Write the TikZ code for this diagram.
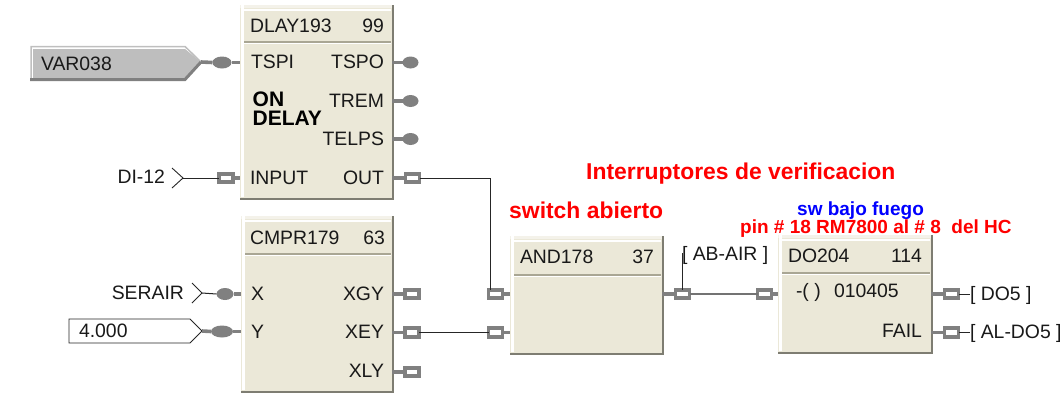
\documentclass[tikz,border=0pt]{standalone}
\usepackage{fontspec}
\setmainfont{Liberation Sans}
\usetikzlibrary{shapes.geometric}
\definecolor{blockfill}{HTML}{EBE8D8}
\definecolor{blockedge}{HTML}{7E7D72}
\definecolor{sepline}{HTML}{A9A694}
\definecolor{pingray}{HTML}{808080}
\definecolor{tagfill}{HTML}{BEBEBE}
\tikzset{
  x=1pt,y=-1pt,
  lbl/.style={inner sep=0pt,outer sep=0pt,font=\fontsize{19.4}{20}\selectfont,text=black!90},
  lw/.style={lbl,anchor=base west},
  le/.style={lbl,anchor=base east},
  bold/.style={inner sep=0pt,anchor=base west,font=\fontsize{#1}{#1}\selectfont\bfseries},
  squarepin/.style={draw=pingray,line width=3.6pt,fill=white,minimum width=14pt,minimum height=8.5pt,inner sep=0pt,outer sep=0pt,shape=rectangle},
  ovalpin/.style={shape=ellipse,fill=pingray,minimum width=#1,minimum height=12pt,inner sep=0pt,outer sep=0pt},
  stub/.style={draw=pingray,line width=3.6pt},
  wire/.style={draw=black!85,line width=1pt},
  graywire/.style={draw=black!55,line width=1.5pt},
  blockbody/.style={shape=rectangle,fill=blockfill,inner sep=0pt,outer sep=0pt,anchor=north west},
  chev/.style={draw=black!85,line width=0.9pt},
}
% name, x1, y1, x2, y2, separator y
\newcommand{\fblock}[6]{%
  \pgfmathsetlengthmacro{\bw}{#4-#2}\pgfmathsetlengthmacro{\bh}{#5-#3}%
  \node[blockbody,minimum width=\bw,minimum height=\bh] (#1) at (#2,#3) {};
  \fill[blockfill!55!white] (#2,#3) rectangle (#4,#3+3);
  \fill[white] (#2+1,#3+4) rectangle (#4-1,#3+5.5);
  \fill[white] (#2+1,#3) rectangle (#2+3.5,#5-1);
  \fill[sepline] (#2+3.5,#6) rectangle (#4-1,#6+1.7);
  \fill[white] (#2+3.5,#6+1.7) rectangle (#4-1,#6+3.2);
  \fill[blockedge] (#4-0.5,#3) rectangle (#4+1.5,#5+1);
  \fill[blockedge] (#2,#5-0.5) rectangle (#4+1.5,#5+1.5);
}
\begin{document}
\begin{tikzpicture}
\useasboundingbox (0,0) rectangle (1063,392);
% blocks
\fblock{dlay}{240}{5}{392}{198}{41}
\fblock{cmpr}{241}{216}{392}{391}{253}
\fblock{andb}{510}{236}{662}{353}{274}
\fblock{dob}{778}{235}{931}{352}{272}
% VAR038 tag
\node[shape=rectangle,inner sep=0pt] (vartip) at (201,62) {};
\fill[tagfill] (33,49) -- (185,49) -- (vartip.center) -- (185,79) -- (33,79) -- cycle;
\draw[draw=black!25,line width=1.5pt] (31,80) -- (31,46.5) -- (185,46.5) -- (vartip.center);
\draw[draw=pingray,line width=3pt] (30,79.5) -- (185,79.5) -- (vartip.center);
\node[lw] (var) at (41,70) {VAR038};
% constant tag
\node[shape=rectangle,inner sep=0pt] (consttip) at (202,331) {};
\draw[chev,fill=white] (69,319) -- (190,319) -- (consttip.center) -- (190,343) -- (69,343) -- cycle;
\node[lw] (const) at (79,337) {4.000};
% chevrons
\node[shape=rectangle,inner sep=0pt] (ditip) at (183,178) {};
\draw[chev] (172,168) -- (ditip.center) -- (172,188);
\node[shape=rectangle,inner sep=0pt] (sertip) at (202,293) {};
\draw[chev] (192,283) -- (sertip.center) -- (192,303);
\node[le] (di) at (165,183) {DI-12};
\node[le] (ser) at (184,299) {SERAIR};
% oval pins
\node[ovalpin=19pt] (ptspi) at (222,62.5) {};
\node[ovalpin=22pt] (py) at (222,331.5) {};
\node[ovalpin=17pt] (px) at (225,294) {};
\node[ovalpin=16pt] (ptspo) at (410.5,62.5) {};
\node[ovalpin=16pt] (ptrem) at (410.5,101) {};
\node[ovalpin=16pt] (ptelps) at (410.5,139) {};
% wires to the blocks
\draw[stub] (vartip.center) -- (ptspi.west);
\draw[stub] (ptspi.east) -- (ptspi -| dlay.west);
\draw[stub] (consttip.center) -- (py.west);
\draw[stub] (py.east) -- (py -| cmpr.west);
\draw[wire] (sertip.center) -- (px.west);
\draw[stub] (px.east) -- (px -| cmpr.west);
\draw[stub] (ptspo -| dlay.east) -- (ptspo.west);
\draw[stub] (ptrem -| dlay.east) -- (ptrem.west);
\draw[stub] (ptelps -| dlay.east) -- (ptelps.west);
% square pins
\node[squarepin] (pinput) at (226,178) {};
\node[squarepin] (pout) at (412.5,178) {};
\node[squarepin] (pxgy) at (412,294) {};
\node[squarepin] (pxey) at (412,332.5) {};
\node[squarepin] (pxly) at (412,372) {};
\node[squarepin] (pa1) at (495.5,294) {};
\node[squarepin] (pa2) at (495.5,332.5) {};
\node[squarepin] (paout) at (682.5,294) {};
\node[squarepin] (pdin) at (764.5,294) {};
\node[squarepin] (pdo5) at (951.5,294) {};
\node[squarepin] (pfail) at (951.5,332.5) {};
% stubs
\draw[stub] (pinput.east) -- (pinput -| dlay.west);
\draw[stub] (pout -| dlay.east) -- (pout.west);
\draw[stub] (pxgy -| cmpr.east) -- (pxgy.west);
\draw[stub] (pxey -| cmpr.east) -- (pxey.west);
\draw[stub] (pxly -| cmpr.east) -- (pxly.west);
\draw[stub] (pa1.east) -- (pa1 -| andb.west);
\draw[stub] (pa2.east) -- (pa2 -| andb.west);
\draw[stub] (paout -| andb.east) -- (paout.west);
\draw[stub] (pdin.east) -- (pdin -| dob.west);
\draw[stub] (pdo5 -| dob.east) -- (pdo5.west);
\draw[stub] (pfail -| dob.east) -- (pfail.west);
% connectors
\draw[wire] (ditip.center) -- (pinput.west);
\draw[wire] (pout.east) -| ([xshift=-5.5pt]pa1.north);
\draw[wire] (pxey.east) -- (pa2.west);
\draw[graywire] (paout.east) -- (pdin.west);
\coordinate (abtop) at (682,253);
\draw[wire] (paout.north -| abtop) -- (abtop);
\node[lw] (dotag) at (970,300) {[ DO5 ]};
\node[lw] (altag) at (970,338) {[ AL-DO5 ]};
\draw[wire] (pdo5.east) -- (pdo5 -| dotag.west);
\draw[wire] (pfail.east) -- (pfail -| altag.west);
\node[lw] (abtag) at (682,260) {[ AB-AIR ]};
% block text
\node[lw] (t1) at (250,32) {DLAY193};
\node[le] (t2) at (384,32) {99};
\node[lw] (t3) at (251,68) {TSPI};
\node[le] (t4) at (384,68) {TSPO};
\node[le] (t5) at (384,107) {TREM};
\node[le] (t6) at (384,145) {TELPS};
\node[lw] (t7) at (250,184) {INPUT};
\node[le] (t8) at (384,184) {OUT};
\node[bold=21] (t9) at (252.5,106) {ON};
\node[bold=21] (t10) at (252.5,125) {DELAY};
\node[lw] (c1) at (250,244) {CMPR179};
\node[le] (c2) at (385,244) {63};
\node[lw] (c3) at (251,300) {X};
\node[lw] (c4) at (251,338) {Y};
\node[le] (c5) at (384,300) {XGY};
\node[le] (c6) at (384,338) {XEY};
\node[le] (c7) at (384,377) {XLY};
\node[lw] (a1) at (520,263) {AND178};
\node[le] (a2) at (654,263) {37};
\node[lw] (d1) at (788,262) {DO204};
\node[le] (d2) at (922,262) {114};
\node[lw] (d3) at (796,297) {-( )};
\node[lw] (d4) at (834,297) {010405};
\node[le] (d5) at (922,337) {FAIL};
% annotations
\node[bold=22.9,text=red] (n1) at (586,179) {Interruptores de verificacion};
\node[bold=22.9,text=red] (n2) at (509,218) {switch abierto};
\node[bold=19,text=blue] (n3) at (797,215) {sw bajo fuego};
\node[bold=19,text=red] (n4) at (740,233) {pin \# 18 RM7800 al \# 8\ \ del HC};
\end{tikzpicture}
\end{document}
